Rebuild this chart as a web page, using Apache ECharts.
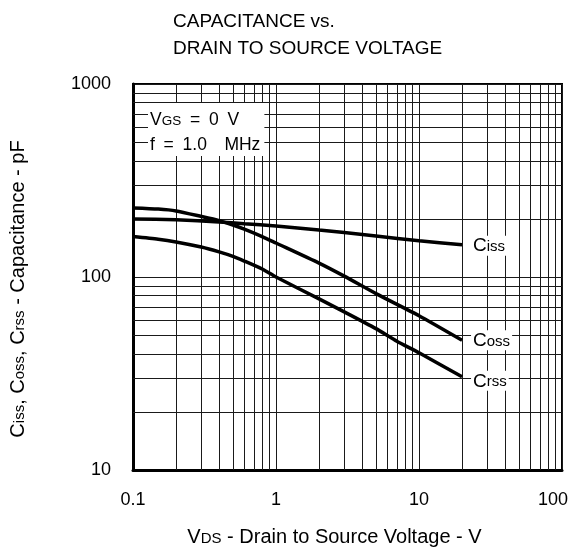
<!DOCTYPE html>
<html>
<head>
<meta charset="utf-8">
<script src="https://cdn.jsdelivr.net/npm/echarts@6/dist/echarts.min.js"></script>
<style>html,body{margin:0;padding:0;background:#fff;}#c{width:582px;height:554px;}</style>
</head>
<body>
<div id="c"></div>
<script>
// ---- data ----
const issV = [0.1, 0.2, 0.4, 0.6, 1, 2, 3, 5, 10, 20];
const issC = [200, 198, 193, 189, 184, 175, 170, 163, 154, 147];
const ossV = [0.1, 0.15, 0.2, 0.3, 0.4, 0.5, 0.6, 0.8, 1, 2, 3, 5, 10, 20];
const ossC = [228, 225, 220, 206, 196, 186, 177, 162, 150, 118, 101, 82, 63, 47];
const rssV = [0.1, 0.15, 0.2, 0.3, 0.4, 0.5, 0.6, 0.8, 1, 2, 3, 5, 7, 10, 20];
const rssC = [162, 157, 152, 143, 135, 128, 121, 110, 100, 77, 66, 54, 46.5, 40.5, 30.4];
const xMinor = [0.2,0.3,0.4,0.5,0.6,0.7,0.8,0.9,2,3,4,5,6,7,8,9,20,30,40,50,60,70,80,90];
const yMinor = [20,30,40,50,60,70,80,90,200,300,400,500,600,700,800,900];
const xTicks = [0.1, 1, 10, 100];
const yTicks = [10, 100, 1000];

const FONT = '"Liberation Sans", Arial, sans-serif';
const pair = (xs, ys) => xs.map((x, i) => [x, ys[i]]);

const chart = echarts.init(document.getElementById('c'), null, {renderer: 'canvas'});

function curve(name, xs, ys, sub, offY) {
  return {
    type: 'line', name: name, data: pair(xs, ys), smooth: 0.2,
    showSymbol: false, symbol: 'none', z: 5, silent: true,
    lineStyle: {color: '#000', width: 3.5},
    endLabel: {
      show: true, distance: 9, offset: [0, offY],
      formatter: '{c|C}{s|' + sub + '}',
      backgroundColor: '#fff', padding: [1, 2, 0, 2],
      rich: {
        c: {fontSize: 19, fontFamily: FONT, color: '#000', verticalAlign: 'bottom'},
        s: {fontSize: 15, fontFamily: FONT, color: '#000', verticalAlign: 'bottom', padding: [0, 0, 1, 0]}
      }
    }
  };
}

const gridLine = {type: 'solid', color: '#1a1a1a', width: 1};
const nameRich = {
  m: {fontSize: 20, fontFamily: FONT, color: '#000', verticalAlign: 'bottom'},
  s: {fontSize: 15, fontFamily: FONT, color: '#000', verticalAlign: 'bottom', padding: [0, 0, 1, 0]}
};

const option = {
  animation: false,
  backgroundColor: '#fff',
  title: {
    text: 'CAPACITANCE vs.\nDRAIN TO SOURCE VOLTAGE',
    left: 173, top: 8, padding: 0,
    textStyle: {fontSize: 19, fontWeight: 'normal', color: '#000', fontFamily: FONT, lineHeight: 27}
  },
  grid: {left: 132, right: 20, top: 84, bottom: 84, show: true, borderColor: '#000', borderWidth: 2, backgroundColor: 'transparent'},
  xAxis: {
    type: 'log', logBase: 10, min: xTicks[0], max: xTicks[xTicks.length - 1],
    axisLine: {lineStyle: {color: '#000', width: 3}},
    axisTick: {show: false},
    splitLine: {show: true, lineStyle: gridLine},
    axisLabel: {
      fontSize: 18, color: '#000', fontFamily: FONT, margin: 21,
      formatter: v => (Math.abs(v - 100) < 1e-6 ? '{p|100}' : String(+v.toPrecision(3))),
      rich: {p: {fontSize: 18, fontFamily: FONT, color: '#000', padding: [0, 18, 0, 0]}}
    },
    name: '{m|V}{s|DS}{m| - Drain to Source Voltage - V}',
    nameLocation: 'middle', nameGap: 57,
    nameTextStyle: {padding: [0, 26, 0, 0], rich: nameRich}
  },
  yAxis: {
    type: 'log', logBase: 10, min: yTicks[0], max: yTicks[yTicks.length - 1],
    axisLine: {lineStyle: {color: '#000', width: 3}},
    axisTick: {show: false},
    splitLine: {show: true, lineStyle: gridLine},
    axisLabel: {fontSize: 18, color: '#000', fontFamily: FONT, margin: 22, formatter: v => String(Math.round(v))},
    name: '{m|C}{s|iss}{m|, C}{s|oss}{m|, C}{s|rss}{m| - Capacitance - pF}',
    nameLocation: 'middle', nameGap: 105, nameRotate: 90,
    nameTextStyle: {padding: [0, 24, 0, 0], rich: nameRich}
  },
  graphic: [{
    type: 'text', z: 10,
    style: {
      x: 148, y: 103,
      text: '{a|V}{s|GS}{a|\u2002=\u20020\u2002V}\n{a|f\u2002=\u20021.0\u2003MHz}',
      backgroundColor: '#fff', padding: [1, 4, 2, 2],
      rich: {
        a: {fontSize: 17.5, fontFamily: FONT, fill: '#000', lineHeight: 25, verticalAlign: 'bottom'},
        s: {fontSize: 13.5, fontFamily: FONT, fill: '#000', lineHeight: 25, verticalAlign: 'bottom', padding: [0, 0, 1, 0]}
      }
    }
  }],
  series: [
    {
      type: 'line', data: [], silent: true, z: 1,
      markLine: {
        silent: true, symbol: ['none', 'none'], animation: false,
        label: {show: false},
        lineStyle: gridLine,
        emphasis: {disabled: true},
        data: xMinor.map(v => ({xAxis: v})).concat(yMinor.map(v => ({yAxis: v})))
      }
    },
    curve('Ciss', issV, issC, 'iss', 1),
    curve('Coss', ossV, ossC, 'oss', 0),
    curve('Crss', rssV, rssC, 'rss', 4)
  ]
};
chart.setOption(option);
</script>
</body>
</html>
